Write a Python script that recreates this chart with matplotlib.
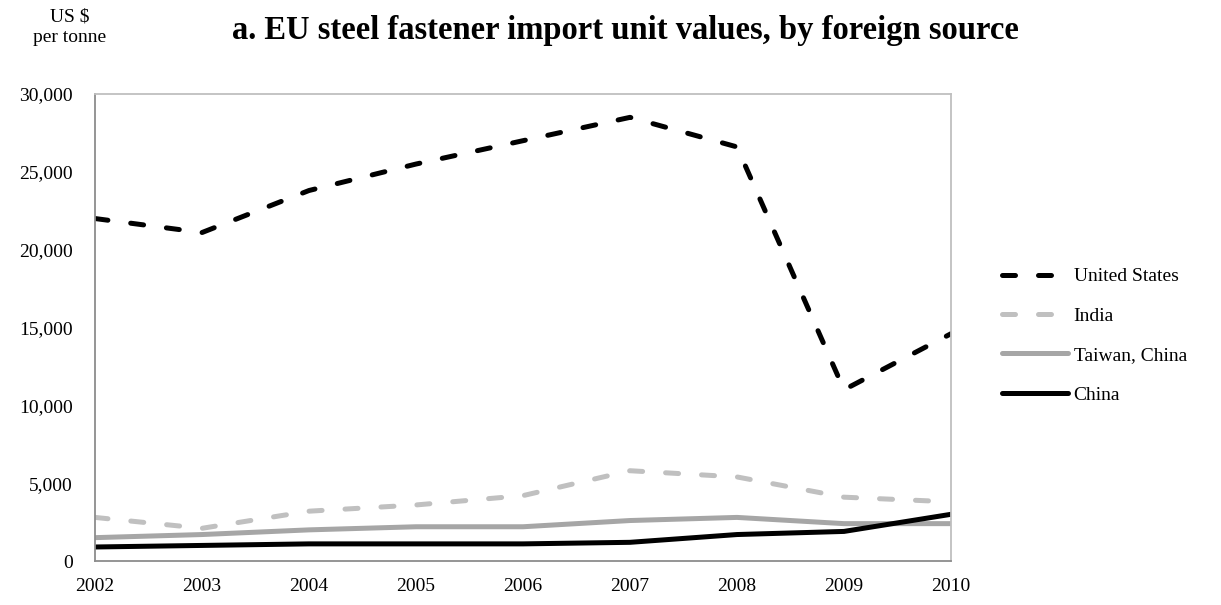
import matplotlib.pyplot as plt

plt.rcParams["font.family"] = ["Liberation Serif", "DejaVu Serif"]

years = [2002, 2003, 2004, 2005, 2006, 2007, 2008, 2009, 2010]
united_states = [22000, 21100, 23800, 25500, 27000, 28500, 26600, 11000, 14600]
india = [2800, 2100, 3200, 3600, 4200, 5800, 5400, 4100, 3800]
taiwan = [1500, 1700, 2000, 2200, 2200, 2600, 2800, 2400, 2400]
china = [900, 1000, 1100, 1100, 1100, 1200, 1700, 1900, 3000]

fig = plt.figure(figsize=(12.21, 6.05), dpi=100)
ax = fig.add_axes([95 / 1221, 1 - 561 / 605, (951 - 95) / 1221, (561 - 94) / 605])

lw = 3.6
dash = (2.6, 4.6)
ax.plot(years, united_states, color="black", lw=lw, dashes=dash,
        dash_capstyle="round", label="United States")
ax.plot(years, india, color="#c0c0c0", lw=lw, dashes=dash,
        dash_capstyle="round", label="India")
ax.plot(years, taiwan, color="#a6a6a6", lw=lw, solid_capstyle="round",
        label="Taiwan, China")
ax.plot(years, china, color="black", lw=lw, solid_capstyle="round", label="China")

ax.set_xlim(2002, 2010)
ax.set_ylim(0, 30000)
ax.set_xticks(years)
ax.set_yticks(range(0, 30001, 5000))
ax.set_yticklabels([f"{v:,}" for v in range(0, 30001, 5000)])
ax.tick_params(length=0, labelsize=14, pad=16)
ax.tick_params(axis="x", pad=12)
for s in ax.spines.values():
    s.set_color("#bfbfbf")
    s.set_linewidth(1.3)
for s in ("left", "bottom"):
    ax.spines[s].set_color("#8c8c8c")

ax.legend(loc="upper left", bbox_to_anchor=(992 / 1221, 1 - 258 / 605),
          bbox_transform=fig.transFigure, frameon=False, fontsize=14,
          handlelength=3.4, handletextpad=0.3, labelspacing=1.12, borderpad=0)

fig.text(625 / 1221, 1 - 30 / 605, "a. EU steel fastener import unit values, by foreign source",
         ha="center", va="center", fontsize=23.5, fontweight="bold")
fig.text(70 / 1221, 1 - 27 / 605, "US $\nper tonne", ha="center", va="center",
         fontsize=14, linespacing=1.3)

fig.savefig("out.png", dpi=100)
